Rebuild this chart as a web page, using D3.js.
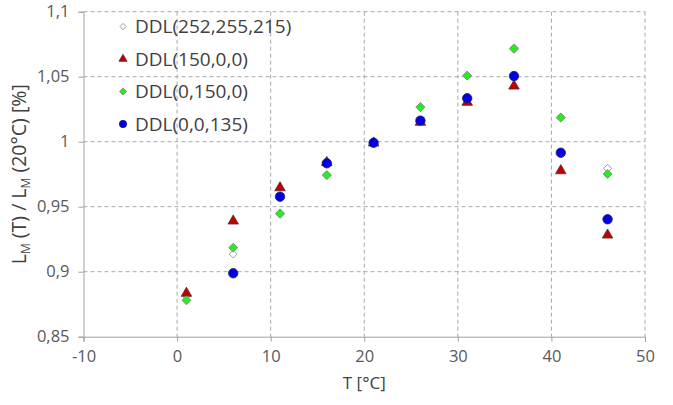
<!DOCTYPE html>
<html>
<head>
<meta charset="utf-8">
<script src="https://cdn.jsdelivr.net/npm/d3@7"></script>
<style>
  body { margin: 0; background: #fff; }
  svg text { font-family: "Open Sans", "Noto Sans", sans-serif; fill: #404040; }
</style>
</head>
<body>
<div class="chart"></div>
<script>
// measured temperatures [°C]
var temps = [1, 6, 11, 16, 21, 26, 31, 36, 41, 46];

// relative luminance L_M(T) / L_M(20°C), one array per colour
var white = [0.881, 0.9136, 0.944, 0.974, 0.999, 1.027, 1.051, 1.071, 1.019, 0.9795];
var red   = [0.8834, 0.939, 0.9646, 0.984, 0.999, 1.015, 1.0303, 1.0428, 0.9777, 0.9282];
var green = [0.878, 0.9185, 0.9449, 0.9744, 0.999, 1.0265, 1.0508, 1.0718, 1.0185, 0.9752];
var blue  = [null, 0.8988, 0.9577, 0.9834, 0.9992, 1.0162, 1.0334, 1.0505, 0.9915, 0.9403];

var seriesNames = ["DDL(252,255,215)", "DDL(150,0,0)", "DDL(0,150,0)", "DDL(0,0,135)"];
var xTicks = [-10, 0, 10, 20, 30, 40, 50];
var yTicks = [0.85, 0.9, 0.95, 1, 1.05, 1.1];

// diamonds are squares turned by 45 degrees
var series = [
    { name: seriesNames[0], values: white, shape: d3.symbolSquare, rot: 45, size: 32, fill: "#ffffff", stroke: "#8c8c8c" },
    { name: seriesNames[1], values: red, shape: d3.symbolTriangle, rot: 0, size: 48, fill: "#c00000", stroke: "#5a3030" },
    { name: seriesNames[2], values: green, shape: d3.symbolSquare, rot: 45, size: 40, fill: "#22ee22", stroke: "#7a8a7a" },
    { name: seriesNames[3], values: blue, shape: d3.symbolCircle, rot: 0, size: 70, fill: "#0000e6", stroke: "#202060" }
];

var width = 673, height = 405;
var svg = d3.select(".chart").append("svg")
    .attr("width", width)
    .attr("height", height);

var x = d3.scaleLinear().domain([-10, 50]).range([83.5, 645]);
var y = d3.scaleLinear().domain([0.85, 1.1]).range([336.7, 11.7]);

var fmt = (d) => String(d).replace(".", ",");

// dashed grid
svg.append("g")
    .selectAll("line")
    .data(xTicks.slice(1))
    .enter()
    .append("line")
    .attr("x1", (d) => x(d)).attr("x2", (d) => x(d))
    .attr("y1", y(1.1)).attr("y2", y(0.85))
    .style("stroke", "#a8a8a8")
    .style("stroke-dasharray", "4,3");

svg.append("g")
    .selectAll("line")
    .data(yTicks.slice(1))
    .enter()
    .append("line")
    .attr("x1", x(-10)).attr("x2", x(50))
    .attr("y1", (d) => y(d)).attr("y2", (d) => y(d))
    .style("stroke", "#a8a8a8")
    .style("stroke-dasharray", "4,3");

// axes
var xAxis = svg.append("g")
    .attr("transform", `translate(0,${y(0.85)})`)
    .call(d3.axisBottom(x).tickValues(xTicks).tickSize(5).tickPadding(9).tickFormat(fmt));

var yAxis = svg.append("g")
    .attr("transform", `translate(${x(-10)},0)`)
    .call(d3.axisLeft(y).tickValues(yTicks).tickSize(5).tickPadding(9).tickFormat(fmt));

[xAxis, yAxis].forEach((g) => {
    g.select(".domain").style("stroke", "#a0a0a0");
    g.selectAll(".tick line").style("stroke", "#a0a0a0");
    g.selectAll(".tick text")
        .style("font-size", "16.5px")
        .style("fill", "#595959")
        .style("font-family", "'Open Sans', sans-serif");
});

// points, later series drawn on top
series.forEach((s) => {
    svg.append("g")
        .selectAll("path")
        .data(temps.map((t, i) => ({ t: t, v: s.values[i] })).filter((d) => d.v != null))
        .enter()
        .append("path")
        .attr("transform", (d) => `translate(${x(d.t)},${y(d.v)}) rotate(${s.rot})`)
        .attr("d", d3.symbol().type(s.shape).size(s.size))
        .style("fill", s.fill)
        .style("stroke", s.stroke)
        .style("stroke-width", 0.8);
});

// legend
var legend = svg.append("g")
    .selectAll("g")
    .data(series)
    .enter()
    .append("g")
    .attr("transform", (d, i) => `translate(123,${26.5 + i * 32.5})`);

legend.append("path")
    .attr("transform", (d) => `rotate(${d.rot})`)
    .attr("d", (d) => d3.symbol().type(d.shape).size(d.size * 0.6)())
    .style("fill", (d) => d.fill)
    .style("stroke", (d) => d.stroke)
    .style("stroke-width", 0.8);

legend.append("text")
    .attr("x", 12)
    .attr("dy", "0.35em")
    .style("font-size", "19px")
    .text((d) => d.name);

// axis titles
svg.append("text")
    .attr("x", (x(-10) + x(50)) / 2)
    .attr("y", 389)
    .attr("text-anchor", "middle")
    .style("font-size", "17px")
    .text("T [°C]");

var yTitle = svg.append("text")
    .attr("transform", `translate(26,${y(0.975)}) rotate(-90)`)
    .attr("text-anchor", "middle")
    .style("font-size", "19.5px");
yTitle.append("tspan").text("L");
yTitle.append("tspan").attr("dy", 4).style("font-size", "12px").text("M");
yTitle.append("tspan").attr("dy", -4).text(" (T) / L");
yTitle.append("tspan").attr("dy", 4).style("font-size", "12px").text("M");
yTitle.append("tspan").attr("dy", -4).text(" (20°C) [%]");
</script>
</body>
</html>
